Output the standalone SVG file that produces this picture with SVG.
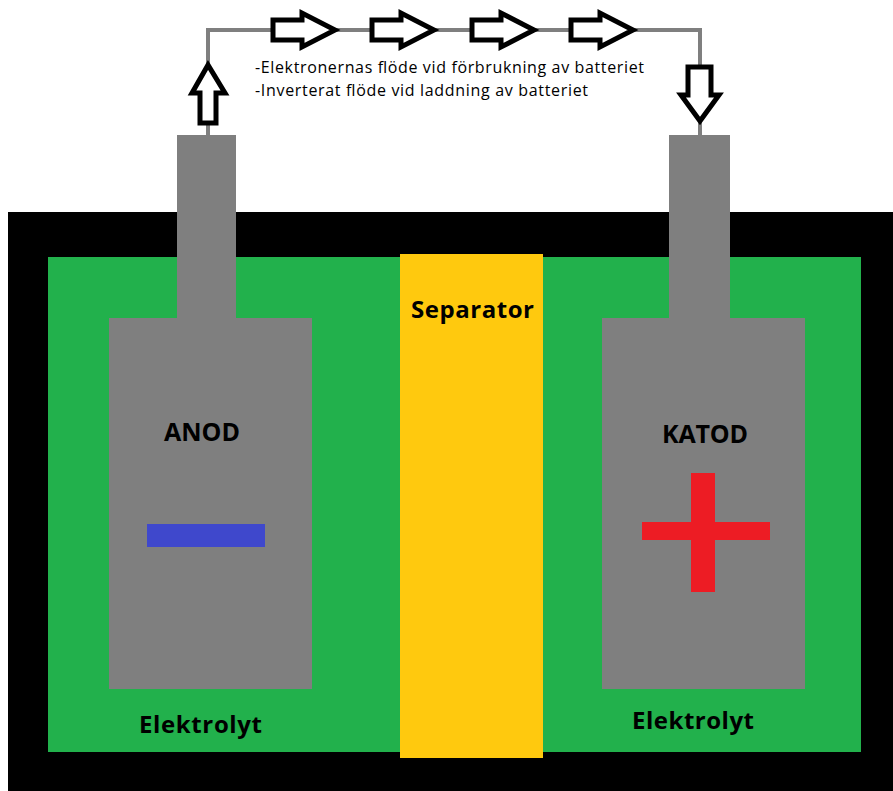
<svg xmlns="http://www.w3.org/2000/svg" width="893" height="791" viewBox="0 0 893 791">
<style>
.lbl{font-family:"Open Sans","Liberation Sans",sans-serif;font-weight:bold;fill:#000;}
.cap{font-family:"Open Sans","Liberation Sans",sans-serif;font-size:16px;fill:#000;}
.elec{fill:#7F7F7F;}
.arr{fill:#fff;stroke:#000;stroke-width:5;stroke-linejoin:miter;}
.wire{fill:none;stroke:#7F7F7F;stroke-width:4;}
</style>
<rect width="893" height="791" fill="#fff"/>
<g id="case"><rect x="8" y="212" width="885" height="579" fill="#000"/></g>
<g id="electrolyte">
<rect x="48" y="257" width="813" height="495" fill="#22B14C"/>
<text class="lbl" x="139" y="733" font-size="24" textLength="123">Elektrolyt</text>
<text class="lbl" x="632" y="729" font-size="24" textLength="122">Elektrolyt</text>
</g>
<g id="separator">
<rect x="400" y="254" width="143" height="504" fill="#FFC90E"/>
<text class="lbl" x="411" y="318" font-size="24" textLength="123">Separator</text>
</g>
<g id="anode">
<rect class="elec" x="177" y="135" width="59" height="185"/>
<rect class="elec" x="109" y="318" width="203" height="371"/>
<text class="lbl" x="164" y="441" font-size="25" textLength="76">ANOD</text>
<rect x="147" y="524" width="118" height="23" fill="#3F48CC"/>
</g>
<g id="cathode">
<rect class="elec" x="669" y="135" width="61" height="185"/>
<rect class="elec" x="602" y="318" width="203" height="371"/>
<text class="lbl" x="662" y="443" font-size="25" textLength="86">KATOD</text>
<rect x="691" y="473" width="24" height="119" fill="#ED1C24"/>
<rect x="642" y="522" width="128" height="18" fill="#ED1C24"/>
</g>
<g id="connectors">
<path class="wire" d="M208 135 V30 H700 V135"/>
<path class="arr" d="M200 123 V93 H192 L208 65 L225 93 H216 V123 Z"/>
<path class="arr" d="M688 67 V95 H681 L700 121 L719 95 H711 V67 Z"/>
<path class="arr" d="M273 20 H302 V13 L335 30 L302 47 V40 H273 Z"/>
<path class="arr" d="M372 20 H401 V13 L434 30 L401 47 V40 H372 Z"/>
<path class="arr" d="M472 20 H501 V13 L534 30 L501 47 V40 H472 Z"/>
<path class="arr" d="M571 20 H600 V13 L633 30 L600 47 V40 H571 Z"/>
</g>
<g id="caption">
<text class="cap" x="255" y="73" textLength="389">-Elektronernas flöde vid förbrukning av batteriet</text>
<text class="cap" x="255" y="96" textLength="333">-Inverterat flöde vid laddning av batteriet</text>
</g>
</svg>
